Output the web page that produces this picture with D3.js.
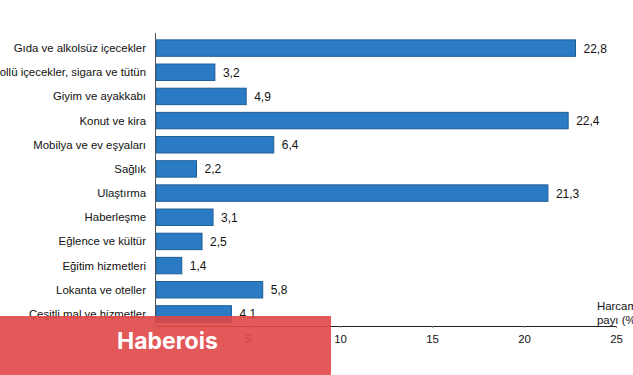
<!DOCTYPE html>
<html>
<head>
<meta charset="utf-8">
<script src="https://cdn.jsdelivr.net/npm/d3@7"></script>
<style>
  body { margin: 0; background: #fff; }
  svg { display: block; font-family: "Liberation Sans", Arial, sans-serif; }
</style>
</head>
<body>
<div id="chart"></div>
<script>
// Chart data
const categories = [
  "Gıda ve alkolsüz içecekler",
  "Alkollü içecekler, sigara ve tütün",
  "Giyim ve ayakkabı",
  "Konut ve kira",
  "Mobilya ve ev eşyaları",
  "Sağlık",
  "Ulaştırma",
  "Haberleşme",
  "Eğlence ve kültür",
  "Eğitim hizmetleri",
  "Lokanta ve oteller",
  "Çeşitli mal ve hizmetler",
];
const values = [22.8, 3.2, 4.9, 22.4, 6.4, 2.2, 21.3, 3.1, 2.5, 1.4, 5.8, 4.1];
// 0 is not labelled on the axis
const xTicks = [5, 10, 15, 20, 25];

const WIDTH = 633;
const HEIGHT = 375;
const BAR_COLOR = "#2b7bc4";
const BAR_STROKE = "#1d5d96";
const LABEL_SIZE = 11.4;

var svg = d3
  .select("#chart")
  .append("svg")
  .attr("width", WIDTH)
  .attr("height", HEIGHT);

// Scales
var x = d3.scaleLinear().domain([0, 25]).range([156, 616]);
var y = d3
  .scaleBand()
  .domain(categories)
  .range([36, 326])
  .paddingInner(0.32)
  .paddingOuter(0.16);

// Bars
svg
  .selectAll("rect.bar")
  .data(values)
  .enter()
  .append("rect")
  .attr("class", "bar")
  .attr("x", x(0))
  .attr("y", (d, i) => y(categories[i]))
  .attr("width", (d) => x(d) - x(0))
  .attr("height", y.bandwidth())
  .attr("fill", BAR_COLOR)
  .attr("stroke", BAR_STROKE)
  .attr("stroke-width", 1);

// Value labels
svg
  .selectAll("text.val")
  .data(values)
  .enter()
  .append("text")
  .attr("class", "val")
  .attr("x", (d) => x(d) + 8)
  .attr("y", (d, i) => y(categories[i]) + y.bandwidth() / 2 + 4.5)
  .attr("font-size", 12)
  .attr("fill", "#111")
  .text((d) => String(d).replace(".", ","));

// Category labels
svg
  .selectAll("text.cat")
  .data(categories)
  .enter()
  .append("text")
  .attr("class", "cat")
  .attr("x", 146)
  .attr("y", (d) => y(d) + y.bandwidth() / 2 + 4)
  .attr("text-anchor", "end")
  .attr("font-size", LABEL_SIZE)
  .attr("fill", "#111")
  .text((d) => d);

// Vertical axis line
svg
  .append("line")
  .attr("x1", x(0) - 0.5)
  .attr("x2", x(0) - 0.5)
  .attr("y1", 33)
  .attr("y2", 326)
  .attr("stroke", "#555");

// Bottom axis
var xAxis = d3.axisBottom(x).tickValues(xTicks).tickSize(2).tickSizeOuter(0);
var gx = svg
  .append("g")
  .attr("transform", "translate(0,326)")
  .call(xAxis);
gx.select(".domain").attr("stroke", "#222");
gx.selectAll(".tick line").attr("stroke", "#888");
gx.selectAll(".tick text")
  .attr("font-size", LABEL_SIZE)
  .attr("font-family", "Liberation Sans, Arial, sans-serif")
  .attr("fill", "#111")
  .attr("dy", "1.05em");

// Axis title
svg
  .append("text")
  .attr("x", 597)
  .attr("y", 310)
  .attr("font-size", LABEL_SIZE)
  .attr("fill", "#111")
  .text("Harcama");
svg
  .append("text")
  .attr("x", 597)
  .attr("y", 324)
  .attr("font-size", LABEL_SIZE)
  .attr("fill", "#111")
  .text("payı (%)");

// Watermark
svg
  .append("rect")
  .attr("x", 0)
  .attr("y", 316)
  .attr("width", 331)
  .attr("height", 59)
  .attr("fill", "#e04646")
  .attr("opacity", 0.9);
svg
  .append("text")
  .attr("x", 117)
  .attr("y", 349)
  .attr("font-size", 23)
  .attr("font-weight", "bold")
  .attr("font-family", "Inter, 'Noto Sans', sans-serif")
  .attr("fill", "#fff")
  .text("Haberois");
</script>
</body>
</html>
